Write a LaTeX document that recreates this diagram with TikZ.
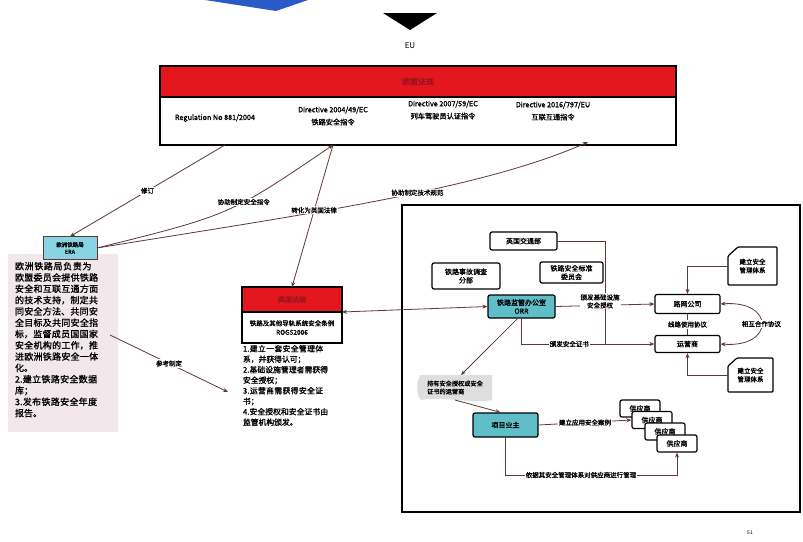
\documentclass[tikz,border=0pt]{standalone}
\usepackage{fontspec}
\setmainfont{Noto Sans CJK SC}
\newfontfamily\cjkb{Noto Sans CJK SC}[FakeBold=1.3]
\XeTeXlinebreaklocale "zh"
\XeTeXlinebreakskip = 0pt plus 1pt
\usetikzlibrary{arrows.meta}
\newcommand\fsz[2]{\fontsize{#1}{#2}\selectfont}
\definecolor{redband}{RGB}{228,22,30}
\definecolor{redtxt}{RGB}{150,20,30}
\definecolor{tealbox}{RGB}{95,190,200}
\definecolor{erabox}{RGB}{135,212,226}
\definecolor{linkc}{RGB}{95,55,55}
\definecolor{pinkbg}{RGB}{242,232,235}
\definecolor{greyflag}{RGB}{222,222,222}
\definecolor{bluechev}{RGB}{40,90,200}
\tikzset{
  lnk/.style={draw=linkc, line width=0.8pt},
  arr/.style={lnk, -{Stealth[length=5pt,width=4pt]}},
  darr/.style={lnk, {Stealth[length=5pt,width=4pt]}-{Stealth[length=5pt,width=4pt]}},
  rbox/.style={draw, line width=1.2pt, rounded corners=2pt, fill=white,
    font=\cjkb\fsz{7}{8.5}, align=center, inner sep=1pt},
  tbox/.style={rbox, fill=tealbox},
  lbl/.style={fill=white, inner sep=1pt, font=\cjkb\fsz{6.5}{8}, align=center},
  dirtxt/.style={font=\cjkb\fsz{7.2}{12.5}, align=center, inner sep=0pt},
  plain/.style={inner sep=0pt, outer sep=0pt}
}
\begin{document}
\begin{tikzpicture}[x=1pt,y=-1pt]
\useasboundingbox (0,0) rectangle (803,541);
\fill[white] (0,0) rectangle (803,541);
% top decorations
\fill[bluechev] (205,0) -- (308,0) -- (276,11) -- cycle;
\fill[black] (383,13) -- (437,13) -- (410,30) -- cycle;
\node[font=\fsz{8}{9}] (eu) at (410,46) {EU};
% top box
\node[draw, line width=1.3pt, minimum width=516, minimum height=79, anchor=north west, plain] (topbox) at (160,66) {};
\node[fill=redband, draw, line width=1.3pt, minimum width=516, minimum height=31, anchor=north west, plain,
  font=\cjkb\fsz{8}{9}, text=redtxt] (topband) at (160,66) {欧盟法规};
\node[dirtxt] (reg) at (215,118) {Regulation No 881/2004};
\node[dirtxt] (d1) at (333,116) {Directive 2004/49/EC\\铁路安全指令};
\node[dirtxt] (d2) at (443,110) {Directive 2007/59/EC\\列车驾驶员认证指令};
\node[dirtxt] (d3) at (553,111) {Directive 2016/797/EU\\互联互通指令};
\coordinate (tA) at (225,145);
\coordinate (tB) at (333,145);
\coordinate (tC) at (588,142);
% ERA
\node[fill=pinkbg, minimum width=110, minimum height=178, anchor=north west, plain] (erabg) at (8,254) {};
\node[draw=linkc, line width=0.8pt, fill=erabox, minimum width=54, minimum height=23, plain,
  font=\cjkb\fsz{5.5}{7}, align=center] (era) at (70,248) {欧洲铁路局\\ERA};
\node[anchor=north west, text width=88, plain, font=\cjkb\fsz{9}{11.3}, align=left] (eratext) at (15,262)
 {欧洲铁路局负责为欧盟委员会提供铁路安全和互联互通方面的技术支持，制定共同安全方法、共同安全目标及共同安全指标，监督成员国国家安全机构的工作，推进欧洲铁路安全一体化。\\
 2.建立铁路安全数据库；\\
 3.发布铁路安全年度报告。};
% UK box
\node[fill=redband, draw, line width=1.1pt, minimum width=100, minimum height=25, plain,
  font=\cjkb\fsz{7}{8}, text=redtxt] (ukband) at (292,299.5) {英国法规};
\node[draw, line width=1.1pt, fill=white, minimum width=100, minimum height=31, anchor=north, plain,
  font=\cjkb\fsz{6.5}{9}, align=center] (ukbox) at (ukband.south) {铁路及其他导轨系统安全条例\\ROGS2006};
\node[anchor=north west, text width=86, plain, font=\cjkb\fsz{7.8}{10.5}, align=left] (ukrules) at (243,345)
 {1.建立一套安全管理体系，并获得认可；\\
 2.基础设施管理者需获得安全授权；\\
 3.运营商需获得安全证书；\\
 4.安全授权和安全证书由监管机构颁发。};
% connectors upper
\draw[arr] (tA) -- node[lbl]{修订} (era.north);
\draw[arr] (era.east) .. controls (230,215) .. node[lbl, pos=0.6]{协助制定安全指令} (tB);
\draw[arr] (era.east) .. controls (300,215) and (480,190) .. node[lbl, pos=0.58]{协助制定技术规范} (tC);
\draw[arr] (tB) -- node[lbl, pos=0.46]{转化为英国法律} (ukband.north);
\coordinate (pA) at (110,335);
\coordinate (pB) at (228,392);
\draw[arr] (pA) -- node[lbl]{参考制定} (pB);
% right panel
\node[draw, line width=1.6pt, minimum width=398, minimum height=307, anchor=north west, plain] (panel) at (402,205) {};
\node[rbox, minimum width=67, minimum height=18] (dft) at (523.5,241) {英国交通部};
\node[rbox, minimum width=68, minimum height=26] (raib) at (466,276) {铁路事故调查\\分部};
\node[rbox, minimum width=63, minimum height=21] (rssb) at (571.5,272.5) {铁路安全标准\\委员会};
\node[tbox, minimum width=67, minimum height=23] (orr) at (521.5,306.5) {铁路监管办公室\\ORR};
\node[rbox, minimum width=65, minimum height=19] (nr) at (687.5,304) {路网公司};
\node[rbox, minimum width=65, minimum height=17] (op) at (687.5,344) {运营商};
% documents
\node[plain, minimum width=49, minimum height=38, font=\cjkb\fsz{6.5}{8.5}, align=center] (doc1) at (752.5,266) {建立安全\\管理体系};
\draw[line width=1.2pt, rounded corners=1pt] ([yshift=-9pt]doc1.north west) -- ([xshift=10pt]doc1.north west) -- (doc1.north east) -- (doc1.south east) -- (doc1.south west) -- cycle;
\node[plain, minimum width=45, minimum height=34, font=\cjkb\fsz{6.5}{8.5}, align=center] (doc2) at (750.5,375) {建立安全\\管理体系};
\draw[line width=1.2pt, rounded corners=1pt] ([yshift=-8pt]doc2.north west) -- ([xshift=9pt]doc2.north west) -- (doc2.north east) -- (doc2.south east) -- (doc2.south west) -- cycle;
% flag
\coordinate (flagc) at (455,387.5);
\fill[greyflag] (421,375) -- (492,375) -- (492,400)
  .. controls (475,404) and (440,396) .. (421,400)
  .. controls (416,396) and (416,379) .. (421,375) -- cycle;
\node[plain, minimum width=74, minimum height=25, font=\cjkb\fsz{6.2}{8}, align=left] (flag) at (flagc) {持有安全授权或安全\\证书的运营商};
\node[tbox, minimum width=65, minimum height=24] (proj) at (505.5,425) {项目业主};
\node[rbox, minimum width=40, minimum height=17] (sup1) at (640,408.5) {供应商};
\node[rbox, minimum width=40, minimum height=17] (sup2) at (652,420) {供应商};
\node[rbox, minimum width=40, minimum height=17] (sup3) at (665,431.5) {供应商};
\node[rbox, minimum width=40, minimum height=17] (sup4) at (677,443.5) {供应商};
% panel connectors
\draw[darr] (ukband.south east) -- (orr.west);
\coordinate (j1) at (605,344);
\draw[lnk] (dft.east) -| (j1);
\draw[arr] (orr.east) -- node[lbl, pos=0.45, yshift=4pt]{颁发基础设施\\安全授权} (nr.west);
\draw[arr] (orr.south) |- node[lbl, pos=0.68]{颁发安全证书} (op.west);
\draw[arr] (doc1.west) -| (nr.north);
\draw[arr] (doc2.west) -| (op.south);
\draw[lnk] (nr.south) -- node[lbl]{线路使用协议} (op.north);
\draw[darr] (nr.east) .. controls (775,300) and (775,348) .. node[lbl]{相互合作协议} (op.east);
\draw[arr] ([xshift=-4pt]orr.south) -- ([xshift=6pt]flag.north);
\draw[arr] (flag.south) -- ([xshift=-5pt]proj.north);
\draw[arr] (proj.east) -- node[lbl]{建立应用安全案例} (sup2.west);
\coordinate (b1) at (505.5,475);
\draw[arr] (proj.south) -- (b1) -| node[lbl, pos=0.22]{依据其安全管理体系对供应商进行管理} (sup4.south);
\node[font=\fsz{5}{6}] (pg) at (750,533) {51};
\end{tikzpicture}
\end{document}
